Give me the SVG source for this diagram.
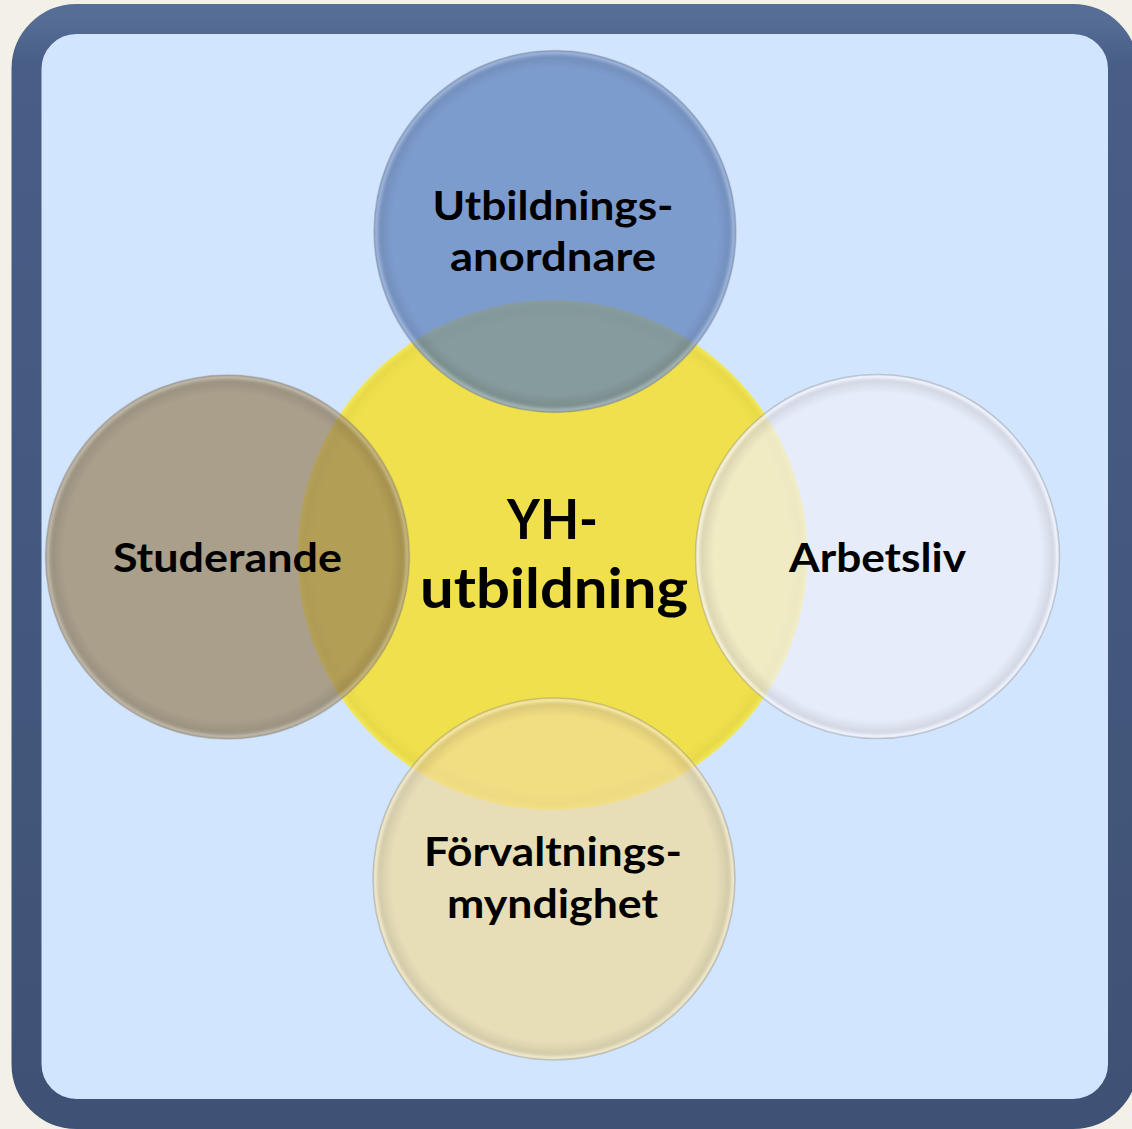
<svg xmlns="http://www.w3.org/2000/svg" width="1132" height="1129" viewBox="0 0 1132 1129">
  <defs>
    <linearGradient id="frameGrad" x1="0" y1="0" x2="0" y2="1">
      <stop offset="0" stop-color="#566d96"/>
      <stop offset="0.04" stop-color="#485e86"/>
      <stop offset="1" stop-color="#3f5275"/>
    </linearGradient>
    <radialGradient id="bevel" cx="0.5" cy="0.5" r="0.5">
      <stop offset="0" stop-color="#000" stop-opacity="0"/>
      <stop offset="0.9" stop-color="#000" stop-opacity="0"/>
      <stop offset="0.955" stop-color="#000" stop-opacity="0.07"/>
      <stop offset="0.985" stop-color="#fff" stop-opacity="0.22"/>
      <stop offset="1" stop-color="#fff" stop-opacity="0.1"/>
    </radialGradient>
    <radialGradient id="yellowGrad" cx="0.5" cy="0.5" r="0.5">
      <stop offset="0" stop-color="#f0e04c"/>
      <stop offset="0.93" stop-color="#f0e04c"/>
      <stop offset="0.975" stop-color="#e8d948"/>
      <stop offset="1" stop-color="#f2e85a"/>
    </radialGradient>
  </defs>
  <style>
    .lbl { font-family: Lato, "Open Sans", "Noto Sans", sans-serif; font-weight: 700; fill: #000; text-anchor: middle; }
    .small { font-size: 41px; }
    .big { font-size: 56px; }
    .rim { fill: url(#bevel); stroke: #7d7d7d; stroke-opacity: 0.35; stroke-width: 1.5; }
  </style>

  <rect x="0" y="0" width="1132" height="1129" fill="#f3f0e8"/>
  <g id="frame">
    <rect x="26.5" y="19" width="1096.5" height="1095" rx="50" ry="50" fill="#d1e5fe" stroke="url(#frameGrad)" stroke-width="30"/>
  </g>

  <g id="connectors"></g>

  <g id="node-center">
    <circle cx="552.5" cy="555" r="255" fill="url(#yellowGrad)"/>
  </g>

  <g id="node-top">
    <circle cx="555" cy="231.5" r="181" fill="#5d7fbb" fill-opacity="0.72"/>
    <circle cx="555" cy="231.5" r="181" class="rim"/>
  </g>

  <g id="node-left">
    <circle cx="227.5" cy="557" r="182" fill="#99815a" fill-opacity="0.7"/>
    <circle cx="227.5" cy="557" r="182" class="rim"/>
  </g>

  <g id="node-right">
    <circle cx="877.5" cy="556.5" r="182" fill="#eff0f6" fill-opacity="0.7"/>
    <circle cx="877.5" cy="556.5" r="182" class="rim"/>
  </g>

  <g id="node-bottom">
    <circle cx="554" cy="879" r="181" fill="#f1dc9a" fill-opacity="0.7"/>
    <circle cx="554" cy="879" r="181" class="rim"/>
  </g>

  <g id="labels">
    <text class="lbl small"><tspan x="553" y="220" textLength="241" lengthAdjust="spacingAndGlyphs">Utbildnings-</tspan><tspan x="553" y="271" textLength="206" lengthAdjust="spacingAndGlyphs">anordnare</tspan></text>
    <text class="lbl big"><tspan x="552.5" y="539" textLength="91" lengthAdjust="spacingAndGlyphs">YH-</tspan><tspan x="554" y="608" textLength="268" lengthAdjust="spacingAndGlyphs">utbildning</tspan></text>
    <text class="lbl small" x="227.5" y="572" textLength="229" lengthAdjust="spacingAndGlyphs">Studerande</text>
    <text class="lbl small" x="877.5" y="572" textLength="177" lengthAdjust="spacingAndGlyphs">Arbetsliv</text>
    <text class="lbl small"><tspan x="553" y="866" textLength="258" lengthAdjust="spacingAndGlyphs">Förvaltnings-</tspan><tspan x="552.5" y="918" textLength="211" lengthAdjust="spacingAndGlyphs">myndighet</tspan></text>
  </g>
</svg>
